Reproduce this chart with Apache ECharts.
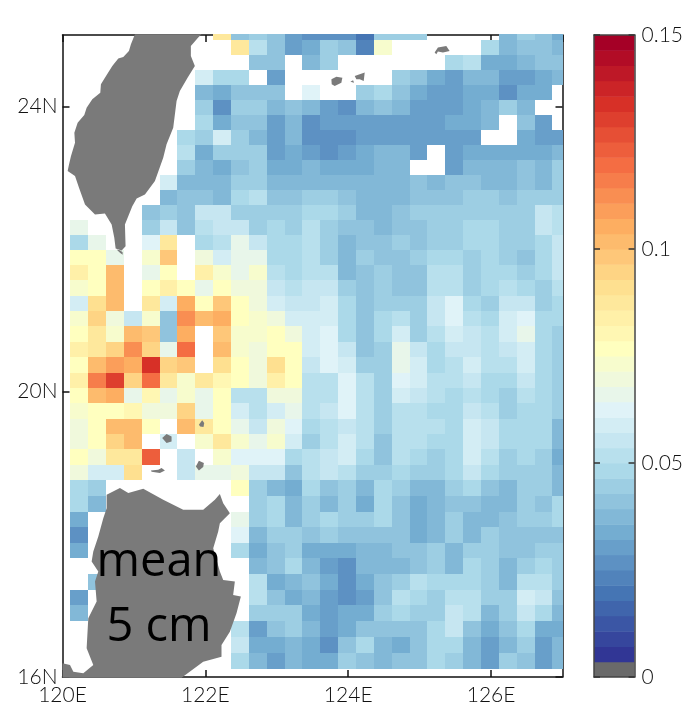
<!DOCTYPE html>
<html><head><meta charset="utf-8">
<style>html,body{margin:0;padding:0;background:#fff}#c{width:686px;height:706px}</style>
<script src="https://cdn.jsdelivr.net/npm/echarts@6/dist/echarts.min.js"></script>
</head><body><div id="c"></div>
<script>
const _ = null;
// cell boundaries in degrees
const lonStart = 120.109, lonStep = 0.25;
const latEdges = [25.01,24.934,24.724,24.513,24.303,24.093,23.882,23.672,23.462,23.251,23.041,22.83,22.62,22.41,22.199,21.985,21.778,21.564,21.348,21.133,20.919,20.703,20.484,20.268,20.053,19.839,19.623,19.408,19.194,18.978,18.756,18.539,18.318,18.097,17.879,17.662,17.445,17.22,17.003,16.785,16.561,16.337,16.112];
// values x 0.001, rows north to south, columns west to east
const cellValues = [
[_,_,_,_,_,_,_,_,88,40,46,41,31,28,27,27,21,46,46,46,_,_,_,_,36,46,40,33],
[_,_,_,_,_,_,_,_,_,88,52,42,30,33,46,41,22,73,_,_,_,_,_,47,36,40,40,37],
[_,_,_,_,_,_,_,_,_,_,41,41,_,36,45,_,_,_,_,_,_,47,52,33,33,37,40,40],
[_,_,_,_,_,_,_,58,48,48,_,31,_,_,_,_,_,_,43,40,34,31,38,38,32,32,35,38],
[_,_,_,_,_,_,_,37,34,41,41,41,_,62,_,_,43,47,40,33,29,29,33,33,28,33,33,_],
[_,_,_,_,_,_,_,44,26,43,46,37,40,36,32,28,37,40,37,29,29,31,35,37,43,38,_,_],
[_,_,_,_,_,_,_,47,33,41,42,30,36,27,29,29,29,29,31,31,31,35,35,37,_,41,29,_],
[_,_,_,_,_,_,47,44,58,46,38,30,36,26,26,26,30,32,32,32,32,32,32,_,_,33,29,32],
[_,_,_,_,_,_,52,33,43,43,46,30,33,32,28,31,34,39,39,32,_,29,33,33,33,33,33,36],
[_,_,_,_,_,_,45,37,34,40,43,34,34,36,35,35,35,39,39,_,_,31,36,36,36,40,36,43],
[_,_,_,_,_,58,38,38,37,46,46,37,37,37,37,37,37,39,36,40,37,40,40,36,36,40,36,43],
[_,_,_,_,_,37,40,40,37,47,51,40,40,43,43,40,36,36,36,40,40,40,44,44,40,44,44,44],
[_,_,_,_,42,44,41,55,55,46,46,46,46,48,47,43,36,36,40,44,44,44,44,44,44,44,57,52],
[66,_,_,_,44,55,41,50,55,55,46,48,45,51,44,41,41,37,40,40,44,44,48,48,44,44,57,52],
[47,66,_,_,62,88,_,48,51,65,55,48,48,52,44,37,41,41,44,41,45,45,48,48,44,44,48,55],
[77,77,65,_,73,98,_,70,60,66,66,49,49,52,46,36,43,40,40,44,47,47,44,48,43,40,47,55],
[85,77,100,_,66,77,_,84,73,66,73,52,49,52,50,36,40,44,40,40,52,52,44,47,47,44,47,55],
[73,77,103,_,78,84,75,66,77,68,68,55,50,55,55,43,40,44,40,40,52,52,44,47,52,47,44,52],
[58,92,103,_,88,60,105,78,98,76,69,60,54,55,60,47,40,44,44,44,55,62,47,44,55,55,44,47],
[72,94,69,54,74,41,112,102,105,76,72,69,60,58,60,47,40,47,52,43,55,63,52,47,60,63,48,48],
[76,88,74,103,98,41,105,_,98,72,72,75,69,60,63,47,40,47,60,46,52,60,54,51,60,66,48,44],
[84,88,96,112,95,65,120,_,102,72,68,76,75,60,63,54,40,44,66,54,47,55,55,51,54,60,48,44],
[78,103,110,107,133,95,98,_,92,76,69,92,78,57,62,60,44,44,66,59,47,51,60,51,51,60,48,44],
[85,116,130,95,121,88,72,88,82,75,70,84,76,52,52,62,51,44,62,60,52,52,54,47,47,55,48,44],
[76,103,107,66,82,66,72,66,76,52,52,69,69,52,52,62,51,44,60,55,52,48,52,47,44,51,48,44],
[72,76,76,82,71,71,95,65,76,59,50,58,66,50,55,62,51,44,51,51,48,48,55,52,44,48,48,44],
[71,76,100,103,75,_,102,88,77,66,54,69,61,47,51,55,51,44,51,51,51,48,60,55,48,48,48,38],
[70,76,94,102,_,60,_,72,88,73,65,72,58,44,51,59,51,40,51,51,48,48,60,55,48,48,48,38],
[76,69,88,88,122,_,57,_,72,63,63,63,47,52,55,60,47,40,51,48,44,48,60,51,44,48,44,34],
[69,60,60,92,_,_,57,66,66,70,55,55,41,52,55,52,44,44,47,44,44,48,55,47,44,44,44,37],
[47,44,_,_,_,_,_,_,_,75,44,38,33,47,41,46,38,48,44,38,38,44,47,42,38,44,44,36],
[47,36,_,_,_,_,_,_,_,_,43,48,36,44,38,44,35,48,42,35,38,42,42,38,38,44,42,47],
[35,_,_,_,_,_,_,_,_,66,43,48,38,44,48,44,43,48,42,35,38,46,38,38,42,44,44,47],
[28,_,_,_,_,_,_,_,_,62,38,44,44,40,46,40,40,40,40,35,38,44,38,44,40,40,40,40],
[35,_,_,_,_,_,_,_,_,48,33,40,44,33,33,33,36,36,40,40,44,38,44,44,40,40,44,44],
[_,_,_,_,_,_,_,_,_,_,38,40,48,38,31,28,36,36,36,42,44,38,47,44,36,44,47,44],
[_,40,_,_,_,_,_,_,_,_,52,33,37,40,34,28,34,40,46,52,48,48,48,44,38,52,52,44],
[30,_,_,_,_,_,_,_,_,_,52,40,33,36,31,28,32,40,52,48,44,52,52,44,44,60,55,40],
[37,_,_,_,_,_,_,_,_,_,44,44,44,33,29,33,33,44,48,44,44,56,52,38,44,56,48,36],
[_,_,_,_,_,_,_,_,_,52,31,40,44,38,29,35,40,40,40,40,48,56,42,35,40,48,35,33],
[_,_,_,_,_,_,_,_,_,54,33,33,37,33,25,40,47,38,35,40,47,47,36,32,38,44,32,36],
[_,_,_,_,_,_,_,_,_,48,36,30,37,34,35,44,40,36,40,40,47,44,38,32,46,40,32,38]
];
// land outlines as [lon, lat]
const taiwan = [[121.014,25.01],[120.958,24.87],[120.93,24.777],[120.851,24.692],[120.781,24.669],[120.697,24.566],[120.594,24.402],[120.538,24.309],[120.529,24.192],[120.417,24.098],[120.338,23.981],[120.305,23.878],[120.212,23.771],[120.166,23.631],[120.175,23.49],[120.119,23.303],[120.091,23.186],[120.072,23.093],[120.175,23.022],[120.231,22.859],[120.315,22.625],[120.455,22.484],[120.594,22.498],[120.688,22.344],[120.725,22.157],[120.744,22.007],[120.828,21.979],[120.883,22.04],[120.874,22.344],[120.977,22.601],[121.038,22.709],[121.154,22.765],[121.294,22.952],[121.41,23.28],[121.457,23.467],[121.55,23.701],[121.597,24.075],[121.643,24.215],[121.751,24.402],[121.853,24.566],[121.797,24.707],[121.797,24.847],[121.9,24.964],[121.946,25.01]];
const luzon = [[120.618,18.554],[120.804,18.648],[120.921,18.578],[121.131,18.639],[121.41,18.484],[121.69,18.344],[121.97,18.344],[122.133,18.484],[122.203,18.564],[122.25,18.437],[122.343,18.297],[122.203,18.157],[122.18,18.04],[122.11,17.806],[122.203,17.478],[122.25,17.361],[122.413,17.338],[122.389,17.151],[122.497,17.127],[122.436,16.893],[122.343,16.636],[122.226,16.449],[122.226,16.285],[121.97,16.215],[121.667,15.99],[120.0,15.99],[120.0,16.192],[120.105,16.168],[120.152,16.075],[120.291,16.051],[120.431,16.168],[120.338,16.402],[120.361,16.823],[120.478,17.057],[120.455,17.338],[120.501,17.478],[120.408,17.619],[120.431,17.759],[120.501,17.97],[120.571,18.227],[120.618,18.367]];
const islandA = [[125.21,24.753],[125.256,24.824],[125.373,24.847],[125.42,24.777],[125.326,24.753],[125.256,24.767],[125.233,24.73]];
const islandB = [[123.765,24.379],[123.834,24.416],[123.918,24.402],[123.904,24.332],[123.811,24.286],[123.769,24.309]];
const islandC = [[124.091,24.426],[124.161,24.449],[124.231,24.473],[124.217,24.356],[124.161,24.379],[124.114,24.379]];
const islandC2 = [[124.03,24.346],[124.068,24.365],[124.082,24.332]];
const islandD = [[120.758,21.993],[120.804,21.984],[120.842,21.956],[120.842,21.918],[120.804,21.946]];
const islandE = [[121.909,19.537],[121.956,19.598],[121.984,19.56],[121.974,19.504],[121.928,19.513]];
const islandF = [[121.396,19.35],[121.457,19.406],[121.527,19.373],[121.527,19.303],[121.457,19.28]];
const islandG = [[121.867,18.952],[121.909,19.032],[121.979,18.999],[121.97,18.943],[121.909,18.896]];
const islandH = [[121.238,18.896],[121.34,18.905],[121.387,18.929],[121.434,18.896],[121.364,18.859],[121.247,18.877]];
const landShapes = [taiwan,luzon,islandA,islandB,islandC,islandC2,islandD,islandE,islandF,islandG,islandH];
// colour scale
const paletteStops = ['#313695','#4575b4','#74add1','#abd9e9','#e0f3f8','#ffffbf','#fee090','#fdae61','#f46d43','#d73027','#a50026'];
const landColor = '#7a7a7a', missingColor = '#6a6a6a';
const levels = 42, maxValue = 0.15;
const annotations = ['mean','5 cm'];
const labelFont = 'Lato';

function hex(c){return [1,3,5].map(i=>parseInt(c.substr(i,2),16));}
const palette = [missingColor];
for(let l=1;l<levels;l++){
  const t=(l-1)/40*10, i=Math.min(9,Math.floor(t)), f=t-i;
  const a=hex(paletteStops[i]), b=hex(paletteStops[i+1]);
  palette.push('rgb('+a.map((v,k)=>Math.round(v+(b[k]-v)*f)).join(',')+')');
}
function colorOf(v){return palette[Math.min(levels-1,Math.floor(v/maxValue*levels))];}

const cellData=[];
cellValues.forEach((row,r)=>row.forEach((v,c)=>{
  if(v===null) return;
  const lon0=lonStart+c*lonStep, lon1=Math.min(127.01,lon0+lonStep);
  cellData.push([lon0,latEdges[r],lon1,latEdges[r+1],v*0.001]);
}));
const barData=[];
for(let l=0;l<levels;l++) barData.push([l*maxValue/levels,(l+1)*maxValue/levels,l]);

const black='#111';
const tick={show:true,inside:true,length:7,lineStyle:{color:black,width:1.5}};
const line={show:true,onZero:false,lineStyle:{color:black,width:1.5}};
const lab={color:'#111',fontFamily:labelFont,fontSize:21,fontWeight:300};
const cbLine={show:true,onZero:false,lineStyle:{color:'#444',width:1.5}};
const cbTick={show:true,inside:true,length:6,lineStyle:{color:'#333',width:1.5}};

const chart=echarts.init(document.getElementById('c'),null,{renderer:'canvas'});
chart.setOption({
  animation:false,backgroundColor:'#fff',
  grid:[
    {left:62.5,right:123.5,top:35,bottom:29},
    {left:594,right:50,top:35,bottom:29}
  ],
  xAxis:[
    {type:'value',gridIndex:0,position:'bottom',min:120,max:127,interval:2,splitLine:{show:false},axisLine:line,axisTick:tick,
     axisLabel:Object.assign({margin:8,showMaxLabel:false,formatter:v=>v+'E'},lab)},
    {type:'value',gridIndex:0,position:'top',min:120,max:127,interval:2,splitLine:{show:false},axisLine:line,axisTick:tick,axisLabel:{show:false}},
    {type:'value',gridIndex:1,position:'bottom',min:0,max:1,splitLine:{show:false},axisLine:cbLine,axisTick:{show:false},axisLabel:{show:false},z:5},
    {type:'value',gridIndex:1,position:'top',min:0,max:1,splitLine:{show:false},axisLine:cbLine,axisTick:{show:false},axisLabel:{show:false},z:5}
  ],
  yAxis:[
    {type:'value',gridIndex:0,position:'left',min:16,max:25,interval:4,splitLine:{show:false},axisLine:line,axisTick:tick,
     axisLabel:Object.assign({margin:5,showMaxLabel:false,formatter:v=>v+'N'},lab)},
    {type:'value',gridIndex:0,position:'right',min:16,max:25,interval:4,splitLine:{show:false},axisLine:line,axisTick:tick,axisLabel:{show:false}},
    {type:'value',gridIndex:1,position:'right',min:0,max:maxValue,interval:0.05,splitLine:{show:false},axisLine:cbLine,axisTick:cbTick,z:5,
     axisLabel:Object.assign({margin:7,showMinLabel:true,showMaxLabel:true,formatter:v=>String(+v.toFixed(2))},lab)},
    {type:'value',gridIndex:1,position:'left',min:0,max:maxValue,interval:0.05,splitLine:{show:false},axisLine:cbLine,axisTick:cbTick,axisLabel:{show:false},z:5}
  ],
  series:[
    {type:'custom',name:'cells',xAxisIndex:0,yAxisIndex:0,clip:false,z:2,coordinateSystem:'cartesian2d',
     data:cellData,encode:{x:[0,2],y:[1,3]},
     renderItem(p,api){
       const a=api.coord([api.value(0),api.value(1)]), b=api.coord([api.value(2),api.value(3)]);
       const x=Math.round(a[0]),y=Math.round(a[1]);
       return {type:'rect',shape:{x:x,y:y,width:Math.round(b[0])-x,height:Math.round(b[1])-y},style:{fill:colorOf(api.value(4))}};
     }},
    {type:'custom',name:'land',xAxisIndex:0,yAxisIndex:0,clip:false,z:3,coordinateSystem:'cartesian2d',
     data:landShapes.map((s,i)=>[s[0][0],s[0][1],i]),encode:{x:0,y:1},
     renderItem(p,api){
       const pts=landShapes[api.value(2)].map(q=>api.coord(q));
       return {type:'polygon',shape:{points:pts},style:{fill:landColor}};
     }},
    {type:'custom',name:'colorbar',xAxisIndex:2,yAxisIndex:2,clip:true,z:2,coordinateSystem:'cartesian2d',
     data:barData,encode:{y:[0,1]},
     renderItem(p,api){
       const a=api.coord([0,api.value(1)]), b=api.coord([1,api.value(0)]);
       return {type:'rect',shape:{x:a[0],y:a[1],width:b[0]-a[0],height:b[1]-a[1]+0.5},style:{fill:palette[api.value(2)]}};
     }}
  ],
  graphic:[
    {type:'text',z:10,x:159,y:563,style:{text:annotations[0],fill:'#000',font:'400 47px "Open Sans"',align:'center',verticalAlign:'middle'}},
    {type:'text',z:10,x:159,y:628,style:{text:annotations[1],fill:'#000',font:'400 47px "Open Sans"',align:'center',verticalAlign:'middle'}}
  ]
});
</script></body></html>
